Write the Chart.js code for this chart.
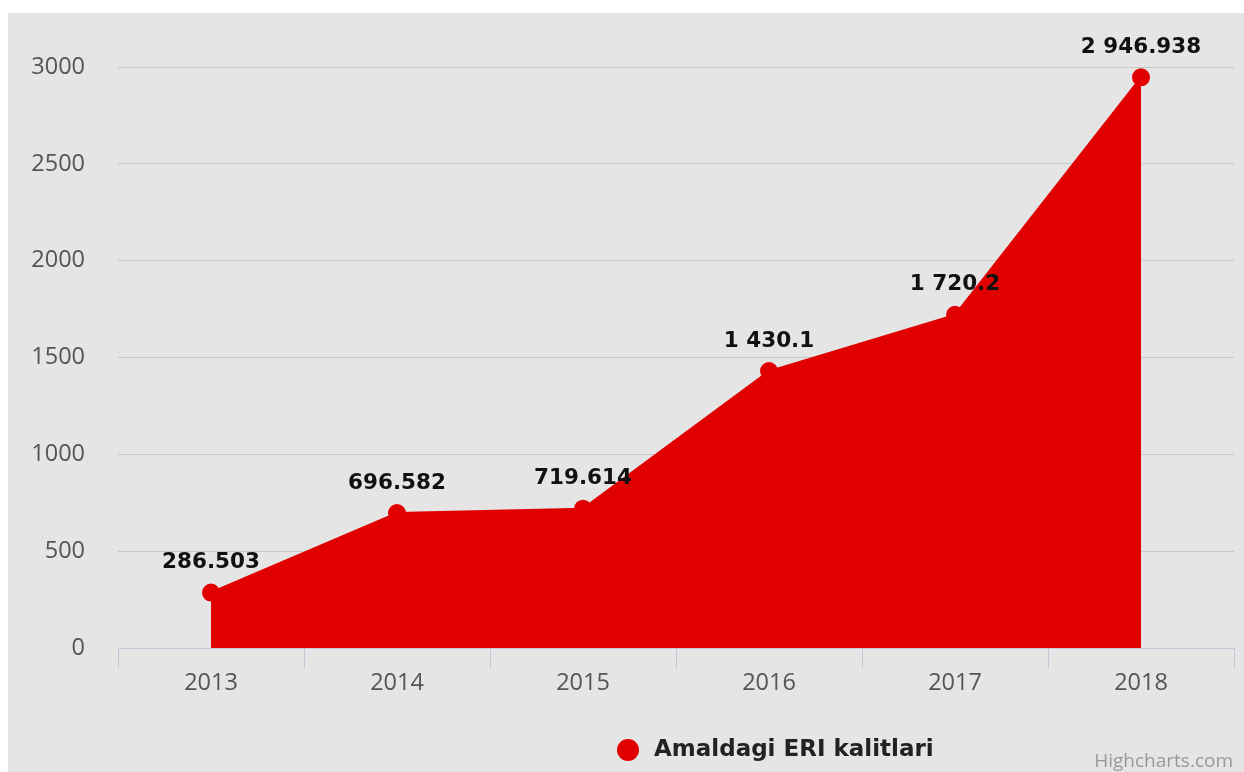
<!DOCTYPE html>
<html>
<head>
<meta charset="utf-8">
<script src="https://cdn.jsdelivr.net/npm/chart.js@4/dist/chart.umd.min.js"></script>
<style>
  html, body { margin: 0; padding: 0; background: #fff; }
  #quadro { position: absolute; left: 8px; top: 13px; width: 1236px; height: 759px; background: #e5e5e5; }
</style>
</head>
<body>
<div id="quadro"><canvas id="grafico" width="1236" height="759"></canvas></div>
<script>
// DADOS
const anos = ["2013", "2014", "2015", "2016", "2017", "2018"];
const valores = [286.503, 696.582, 719.614, 1430.1, 1720.2, 2946.938];
const nomeSerie = "Amaldagi ERI kalitlari";
const ticksY = [0, 500, 1000, 1500, 2000, 2500, 3000];

const vermelho = "#e10000";

// número com espaço nos milhares
function formatar(v) {
    const partes = String(v).split(".");
    partes[0] = partes[0].replace(/\B(?=(\d{3})+(?!\d))/g, " ");
    return partes.join(".");
}

// RÓTULOS DOS PONTOS
const rotulos = {
    id: "rotulos",
    afterDatasetsDraw(chart) {
        const c = chart.ctx;
        const meta = chart.getDatasetMeta(0);
        c.save();
        c.font = "bold 21.5px 'DejaVu Sans'";
        c.fillStyle = "#111";
        c.textAlign = "center";
        c.textBaseline = "middle";
        meta.data.forEach((p, i) => {
            c.fillText(formatar(valores[i]), p.x, p.y - 30);
        });
        c.restore();
    }
};

// LEGENDA + CRÉDITO
const legenda = {
    id: "legenda",
    afterDraw(chart) {
        const c = chart.ctx;
        c.save();
        c.fillStyle = vermelho;
        c.beginPath();
        c.arc(620, 737, 11, 0, Math.PI * 2);
        c.fill();
        c.fillStyle = "#222";
        c.font = "bold 23px 'DejaVu Sans'";
        c.textAlign = "left";
        c.textBaseline = "middle";
        c.fillText(nomeSerie, 646, 737);
        c.fillStyle = "#999";
        c.font = "19px 'Open Sans'";
        c.textAlign = "right";
        c.fillText("Highcharts.com", 1225, 749);
        c.restore();
    }
};

const ctx = document.getElementById("grafico").getContext("2d");

new Chart(ctx, {
    type: "line",
    data: {
        labels: anos,
        datasets: [{
            label: nomeSerie,
            data: valores,
            fill: "origin",
            backgroundColor: vermelho,
            borderColor: vermelho,
            borderWidth: 2,
            tension: 0,
            pointRadius: 8,
            pointBackgroundColor: vermelho,
            pointBorderColor: vermelho
        }]
    },
    options: {
        responsive: false,
        animation: false,
        layout: { padding: { top: 54, right: 10, left: 0, bottom: 0 } },
        plugins: {
            legend: { display: false },
            tooltip: { enabled: false }
        },
        scales: {
            x: {
                offset: true,
                afterFit(s) { s.height = 124; },
                grid: {
                    offset: true,
                    drawOnChartArea: false,
                    drawTicks: true,
                    tickLength: 20,
                    color: "#c0c8d8"
                },
                border: { display: true, color: "#c0c8d8", width: 1 },
                ticks: {
                    color: "#555",
                    font: { family: "'Open Sans'", size: 23.5 },
                    padding: 1,
                    maxRotation: 0
                }
            },
            y: {
                min: 0,
                max: 3000,
                afterFit(s) { s.width = 110; },
                afterBuildTicks(s) { s.ticks = ticksY.map(v => ({ value: v })); },
                grid: { color: "#c8c8c8", drawTicks: false },
                border: { display: false },
                ticks: {
                    color: "#555",
                    font: { family: "'Open Sans'", size: 23.5 },
                    padding: 33,
                    callback: v => String(v)
                }
            }
        }
    },
    plugins: [rotulos, legenda]
});
</script>
</body>
</html>
